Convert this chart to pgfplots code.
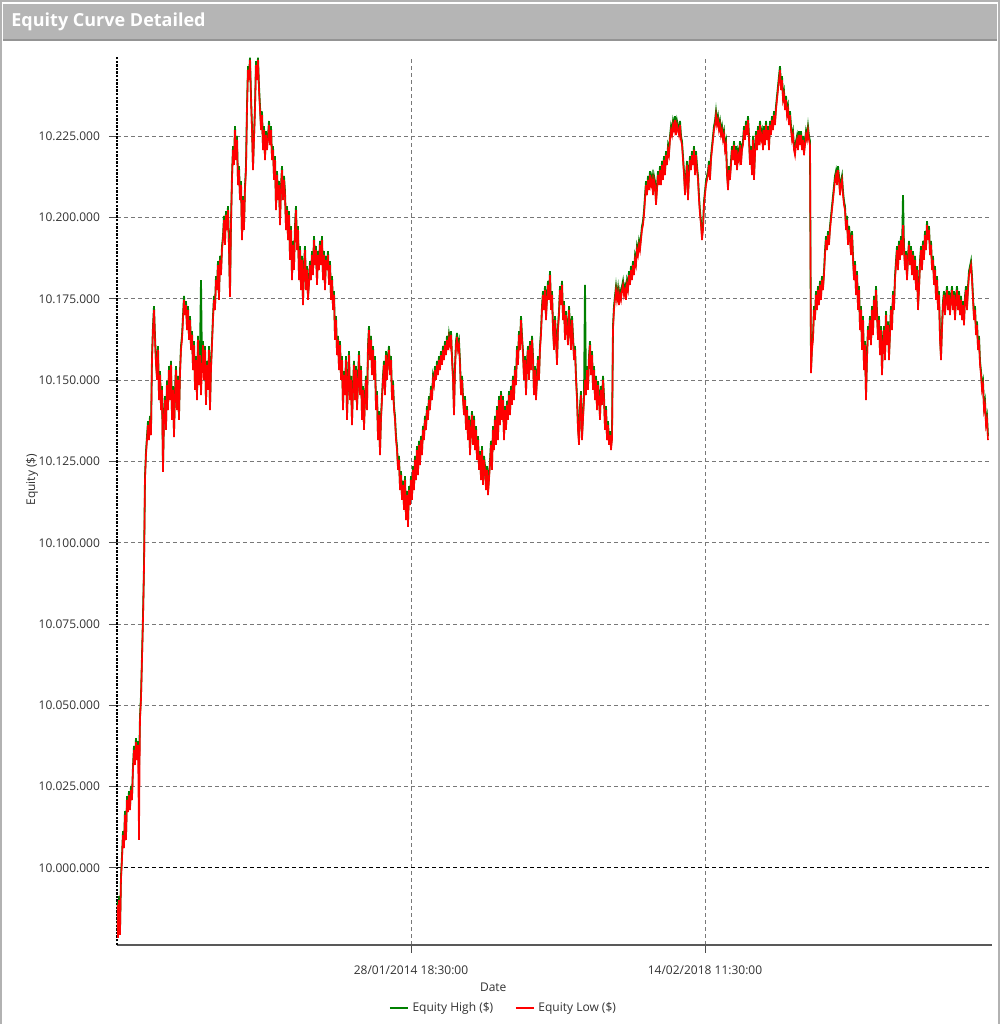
\documentclass[border=0pt]{standalone}
\usepackage{pgfplots}
\usepackage{pgfplotstable}
\pgfplotsset{compat=1.18}
\usepackage{fontspec}
\setmainfont{Open Sans}
\definecolor{eqgreen}{RGB}{0,128,0}
\definecolor{eqred}{RGB}{255,0,0}
\definecolor{gridgray}{RGB}{120,120,120}
\definecolor{txt}{RGB}{50,50,50}
\pgfplotstableread{
x lo hi
0 9988.6 9989.8
1 9978.5 9979.7
2 9990.1 9991.3
3 9979.4 9980.6
4 9996.3 9997.5
5 10002.5 10003.7
6 10010.1 10011.3
7 10006.1 10007.3
8 10016.3 10017.5
9 10008.6 10009.8
10 10020.9 10022.1
11 10017.2 10018.4
12 10022.4 10023.6
13 10017.8 10019.0
14 10024.0 10025.2
15 10020.9 10022.1
16 10030.1 10031.3
17 10036.3 10037.5
18 10031.7 10032.9
19 10038.7 10039.9
20 10033.2 10034.4
21 10037.8 10039.0
22 10008.6 10030.0
23 10045.5 10046.7
24 10051.7 10052.9
25 10063.9 10065.1
26 10076.3 10077.5
27 10091.6 10092.8
28 10119.3 10120.5
29 10127.0 10128.2
30 10131.6 10132.8
31 10136.2 10137.4
32 10131.6 10132.8
33 10137.8 10139.0
34 10133.1 10134.3
35 10156.2 10157.4
36 10165.4 10166.6
37 10171.6 10172.8
38 10162.4 10163.6
39 10154.7 10155.9
40 10150.1 10151.3
41 10159.3 10160.5
42 10143.9 10145.1
43 10151.6 10152.8
44 10140.8 10142.0
45 10147.0 10148.2
46 10121.8 10123.0
47 10137.8 10139.0
48 10143.9 10145.1
49 10134.7 10135.9
50 10148.5 10149.7
51 10140.8 10142.0
52 10153.1 10154.3
53 10143.9 10145.1
54 10154.7 10155.9
55 10137.8 10139.0
56 10147.0 10148.2
57 10132.5 10133.7
58 10145.4 10146.6
59 10153.1 10154.3
60 10140.8 10142.0
61 10150.1 10151.3
62 10137.8 10139.0
63 10151.6 10152.8
64 10159.3 10160.5
65 10162.4 10163.6
66 10168.5 10169.7
67 10174.7 10175.9
68 10170.0 10171.2
69 10173.1 10174.3
70 10165.4 10166.6
71 10171.6 10172.8
72 10162.4 10163.6
73 10168.5 10169.7
74 10159.3 10160.5
75 10163.9 10165.1
76 10153.1 10154.3
77 10160.8 10162.0
78 10147.0 10148.2
79 10156.2 10157.4
80 10143.9 10145.1
81 10162.4 10163.6
82 10148.5 10149.7
83 10157.7 10158.9
84 10145.4 10180.8
85 10153.1 10154.3
86 10160.8 10162.0
87 10150.1 10151.3
88 10159.3 10160.5
89 10142.4 10143.6
90 10154.7 10155.9
91 10147.0 10148.2
92 10159.3 10160.5
93 10140.8 10142.0
94 10153.1 10154.3
95 10160.8 10162.0
96 10168.5 10169.7
97 10174.7 10175.9
98 10171.6 10172.8
99 10180.8 10182.0
100 10177.7 10178.9
101 10185.4 10186.6
102 10174.7 10175.9
103 10187.0 10188.2
104 10182.3 10183.5
105 10190.0 10191.2
106 10193.1 10194.3
107 10199.3 10200.5
108 10191.6 10192.8
109 10200.8 10202.0
110 10196.2 10197.4
111 10202.3 10203.5
112 10190.0 10191.2
113 10175.6 10176.8
114 10197.7 10198.9
115 10211.6 10212.8
116 10220.8 10222.0
117 10216.2 10217.4
118 10226.9 10228.1
119 10217.7 10218.9
120 10223.9 10225.1
121 10210.0 10211.2
122 10214.6 10215.8
123 10205.4 10206.6
124 10210.0 10211.2
125 10193.1 10194.3
126 10205.4 10206.6
127 10196.2 10197.4
128 10208.5 10209.7
129 10214.6 10215.8
130 10233.1 10234.3
131 10245.4 10246.6
132 10242.3 10243.5
133 10248.5 10249.2
134 10236.2 10237.4
135 10226.9 10228.1
136 10214.6 10215.8
137 10223.9 10225.1
138 10233.1 10234.3
139 10246.9 10248.1
140 10242.3 10243.5
141 10248.5 10249.2
142 10239.2 10240.4
143 10233.1 10234.3
144 10226.9 10228.1
145 10231.5 10232.7
146 10220.8 10222.0
147 10226.9 10228.1
148 10217.7 10218.9
149 10225.4 10226.6
150 10220.8 10222.0
151 10223.9 10225.1
152 10228.5 10229.7
153 10222.3 10223.5
154 10226.9 10228.1
155 10217.7 10218.9
156 10220.8 10222.0
157 10211.6 10212.8
158 10217.7 10218.9
159 10202.3 10203.5
160 10213.1 10214.3
161 10205.4 10206.6
162 10210.0 10211.2
163 10197.7 10198.9
164 10208.5 10209.7
165 10214.6 10215.8
166 10205.4 10206.6
167 10211.6 10212.8
168 10206.9 10208.1
169 10196.2 10197.4
170 10202.3 10203.5
171 10193.1 10194.3
172 10200.8 10202.0
173 10187.0 10188.2
174 10196.2 10197.4
175 10180.8 10182.0
176 10191.6 10192.8
177 10183.9 10185.1
178 10196.2 10197.4
179 10202.3 10203.5
180 10190.0 10191.2
181 10196.2 10197.4
182 10180.8 10182.0
183 10190.0 10191.2
184 10177.7 10178.9
185 10187.0 10188.2
186 10173.1 10174.3
187 10183.9 10185.1
188 10190.0 10191.2
189 10177.7 10178.9
190 10183.9 10185.1
191 10174.7 10175.9
192 10179.3 10180.5
193 10185.4 10186.6
194 10180.8 10182.0
195 10188.5 10189.7
196 10182.3 10183.5
197 10193.1 10194.3
198 10185.4 10186.6
199 10190.0 10191.2
200 10179.3 10180.5
201 10188.5 10189.7
202 10183.9 10185.1
203 10191.6 10192.8
204 10185.4 10186.6
205 10193.1 10194.3
206 10180.8 10182.0
207 10188.5 10189.7
208 10177.7 10178.9
209 10187.0 10188.2
210 10183.9 10185.1
211 10188.5 10189.7
212 10179.3 10180.5
213 10185.4 10186.6
214 10174.7 10175.9
215 10180.8 10182.0
216 10171.6 10172.8
217 10176.2 10177.4
218 10162.4 10163.6
219 10168.5 10169.7
220 10157.7 10158.9
221 10162.4 10163.6
222 10153.1 10154.3
223 10160.8 10162.0
224 10150.1 10151.3
225 10156.2 10157.4
226 10140.8 10142.0
227 10151.6 10152.8
228 10145.4 10146.6
229 10156.2 10157.4
230 10137.8 10139.0
231 10148.5 10149.7
232 10157.7 10158.9
233 10143.9 10145.1
234 10150.1 10151.3
235 10136.2 10137.4
236 10147.0 10148.2
237 10154.7 10155.9
238 10143.9 10145.1
239 10153.1 10154.3
240 10140.8 10142.0
241 10148.5 10149.7
242 10157.7 10158.9
243 10145.4 10146.6
244 10153.1 10154.3
245 10137.8 10139.0
246 10147.0 10148.2
247 10134.7 10135.9
248 10143.9 10145.1
249 10150.1 10151.3
250 10140.8 10142.0
251 10159.3 10160.5
252 10165.4 10166.6
253 10156.2 10157.4
254 10162.4 10163.6
255 10151.6 10152.8
256 10159.3 10160.5
257 10150.1 10151.3
258 10156.2 10157.4
259 10140.8 10142.0
260 10145.4 10146.6
261 10131.6 10132.8
262 10139.3 10140.5
263 10127.0 10128.2
264 10137.8 10139.0
265 10143.9 10145.1
266 10150.1 10151.3
267 10154.7 10155.9
268 10145.4 10146.6
269 10157.7 10158.9
270 10150.1 10151.3
271 10156.2 10157.4
272 10159.3 10160.5
273 10151.6 10152.8
274 10156.2 10157.4
275 10143.9 10145.1
276 10148.5 10149.7
277 10140.8 10142.0
278 10137.8 10139.0
279 10131.6 10132.8
280 10128.5 10129.7
281 10122.4 10123.6
282 10125.5 10126.7
283 10116.2 10117.4
284 10120.8 10122.0
285 10113.2 10114.4
286 10117.8 10119.0
287 10110.1 10111.3
288 10119.3 10120.5
289 10107.0 10108.2
290 10114.7 10115.9
291 10104.9 10106.1
292 10116.2 10117.4
293 10111.6 10112.8
294 10119.3 10120.5
295 10113.2 10114.4
296 10122.4 10123.6
297 10116.2 10117.4
298 10125.5 10126.7
299 10119.3 10120.5
300 10128.5 10129.7
301 10120.8 10122.0
302 10130.1 10131.3
303 10123.9 10125.1
304 10131.6 10132.8
305 10127.0 10128.2
306 10134.7 10135.9
307 10131.6 10132.8
308 10137.8 10139.0
309 10134.7 10135.9
310 10140.8 10142.0
311 10137.8 10139.0
312 10143.9 10145.1
313 10140.8 10142.0
314 10147.0 10148.2
315 10143.9 10145.1
316 10150.1 10151.3
317 10148.5 10149.7
318 10153.1 10154.3
319 10150.1 10151.3
320 10154.7 10155.9
321 10151.6 10152.8
322 10156.2 10157.4
323 10153.1 10154.3
324 10157.7 10158.9
325 10154.7 10155.9
326 10159.3 10160.5
327 10156.2 10157.4
328 10160.8 10162.0
329 10157.7 10158.9
330 10162.4 10163.6
331 10159.3 10160.5
332 10163.0 10164.2
333 10160.8 10162.0
334 10163.9 10165.1
335 10156.2 10157.4
336 10150.1 10151.3
337 10139.3 10140.5
338 10153.1 10154.3
339 10160.8 10162.0
340 10163.3 10164.5
341 10159.3 10160.5
342 10160.8 10162.0
343 10154.7 10155.9
344 10145.4 10146.6
345 10150.1 10151.3
346 10143.9 10145.1
347 10139.3 10140.5
348 10143.9 10145.1
349 10134.7 10135.9
350 10140.8 10142.0
351 10131.6 10132.8
352 10137.8 10139.0
353 10127.0 10128.2
354 10134.7 10135.9
355 10139.3 10140.5
356 10130.1 10131.3
357 10137.8 10139.0
358 10128.5 10129.7
359 10134.7 10135.9
360 10125.5 10126.7
361 10131.6 10132.8
362 10122.4 10123.6
363 10127.0 10128.2
364 10119.3 10120.5
365 10128.5 10129.7
366 10117.8 10119.0
367 10125.5 10126.7
368 10122.4 10123.6
369 10116.2 10117.4
370 10122.4 10123.6
371 10114.7 10115.9
372 10119.3 10120.5
373 10123.9 10125.1
374 10130.1 10131.3
375 10122.4 10123.6
376 10134.7 10135.9
377 10128.5 10129.7
378 10137.8 10139.0
379 10130.1 10131.3
380 10140.8 10142.0
381 10131.6 10132.8
382 10143.9 10145.1
383 10136.2 10137.4
384 10145.4 10146.6
385 10137.8 10139.0
386 10143.9 10145.1
387 10131.6 10132.8
388 10140.8 10142.0
389 10134.7 10135.9
390 10142.4 10143.6
391 10137.8 10139.0
392 10145.4 10146.6
393 10139.3 10140.5
394 10147.0 10148.2
395 10142.4 10143.6
396 10150.1 10151.3
397 10143.9 10145.1
398 10153.1 10154.3
399 10148.5 10149.7
400 10159.3 10160.5
401 10154.7 10155.9
402 10163.9 10165.1
403 10159.3 10160.5
404 10168.5 10169.7
405 10162.4 10163.6
406 10157.7 10158.9
407 10150.1 10151.3
408 10156.2 10157.4
409 10145.4 10146.6
410 10154.7 10155.9
411 10159.3 10160.5
412 10150.1 10151.3
413 10160.8 10162.0
414 10153.1 10154.3
415 10162.4 10163.6
416 10156.2 10157.4
417 10145.4 10146.6
418 10153.1 10154.3
419 10143.9 10145.1
420 10150.1 10151.3
421 10156.2 10157.4
422 10150.1 10151.3
423 10159.3 10160.5
424 10163.9 10165.1
425 10171.6 10172.8
426 10176.2 10177.4
427 10171.6 10172.8
428 10177.7 10178.9
429 10168.5 10169.7
430 10174.7 10175.9
431 10179.3 10180.5
432 10174.7 10175.9
433 10182.3 10183.5
434 10171.6 10172.8
435 10176.2 10177.4
436 10165.4 10166.6
437 10159.3 10160.5
438 10168.5 10169.7
439 10162.4 10163.6
440 10154.7 10155.9
441 10165.4 10166.6
442 10170.0 10171.2
443 10177.7 10178.9
444 10173.1 10174.3
445 10179.3 10180.5
446 10168.5 10169.7
447 10173.1 10174.3
448 10162.4 10163.6
449 10170.0 10171.2
450 10165.4 10166.6
451 10160.8 10162.0
452 10171.6 10172.8
453 10165.4 10166.6
454 10159.3 10160.5
455 10168.5 10169.7
456 10162.4 10163.6
457 10156.2 10157.4
458 10159.3 10160.5
459 10150.1 10151.3
460 10143.9 10145.1
461 10134.7 10135.9
462 10130.1 10131.3
463 10140.8 10142.0
464 10145.4 10146.6
465 10131.6 10132.8
466 10137.8 10139.0
467 10143.9 10145.1
468 10150.1 10179.3
469 10145.4 10146.6
470 10153.1 10154.3
471 10147.0 10148.2
472 10156.2 10157.4
473 10160.8 10162.0
474 10151.6 10152.8
475 10157.7 10158.9
476 10147.0 10148.2
477 10153.1 10154.3
478 10143.9 10145.1
479 10150.1 10151.3
480 10140.8 10142.0
481 10148.5 10149.7
482 10143.9 10145.1
483 10137.8 10139.0
484 10147.0 10148.2
485 10142.4 10143.6
486 10150.1 10151.3
487 10143.9 10145.1
488 10134.7 10135.9
489 10140.8 10142.0
490 10131.6 10132.8
491 10136.2 10137.4
492 10130.1 10131.3
493 10133.1 10134.3
494 10128.5 10129.7
495 10131.6 10132.8
496 10165.4 10166.6
497 10171.6 10172.8
498 10174.7 10175.9
499 10177.7 10178.9
500 10174.7 10175.9
501 10177.1 10178.3
502 10173.1 10174.3
503 10176.2 10177.4
504 10174.7 10175.9
505 10177.7 10178.9
506 10179.3 10180.5
507 10176.2 10177.4
508 10177.7 10178.9
509 10174.7 10175.9
510 10179.3 10180.5
511 10177.7 10178.9
512 10182.3 10183.5
513 10179.3 10180.5
514 10183.9 10185.1
515 10180.8 10182.0
516 10185.4 10186.6
517 10182.3 10183.5
518 10187.0 10188.2
519 10185.4 10186.6
520 10190.0 10191.2
521 10188.5 10189.7
522 10191.6 10192.8
523 10190.0 10191.2
524 10193.1 10194.3
525 10196.2 10197.4
526 10197.7 10198.9
527 10200.8 10202.0
528 10205.4 10206.6
529 10210.0 10211.2
530 10206.9 10208.1
531 10211.6 10212.8
532 10208.5 10209.7
533 10213.1 10214.3
534 10210.0 10211.2
535 10211.6 10212.8
536 10206.9 10208.1
537 10211.6 10212.8
538 10210.0 10211.2
539 10203.9 10205.1
540 10208.5 10209.7
541 10213.1 10214.3
542 10210.0 10211.2
543 10214.6 10215.8
544 10210.0 10211.2
545 10216.2 10217.4
546 10211.6 10212.8
547 10217.7 10218.9
548 10213.1 10214.3
549 10219.2 10220.4
550 10216.2 10217.4
551 10220.8 10222.0
552 10219.2 10220.4
553 10223.9 10225.1
554 10226.9 10228.1
555 10225.4 10226.6
556 10228.5 10229.7
557 10226.9 10228.1
558 10230.0 10231.2
559 10225.4 10226.6
560 10228.5 10229.7
561 10226.9 10228.1
562 10225.4 10226.6
563 10228.5 10229.7
564 10223.9 10225.1
565 10222.3 10223.5
566 10217.7 10218.9
567 10213.1 10214.3
568 10206.9 10208.1
569 10211.6 10212.8
570 10216.2 10217.4
571 10205.4 10206.6
572 10213.1 10214.3
573 10217.7 10218.9
574 10214.6 10215.8
575 10219.2 10220.4
576 10216.2 10217.4
577 10220.8 10222.0
578 10213.1 10214.3
579 10219.2 10220.4
580 10214.6 10215.8
581 10211.6 10212.8
582 10205.4 10206.6
583 10200.8 10202.0
584 10197.7 10198.9
585 10193.1 10194.3
586 10196.2 10197.4
587 10203.9 10205.1
588 10206.9 10208.1
589 10210.0 10211.2
590 10211.6 10212.8
591 10213.1 10214.3
592 10216.2 10217.4
593 10211.6 10212.8
594 10217.7 10218.9
595 10220.8 10222.0
596 10223.9 10225.1
597 10226.9 10228.1
598 10228.5 10229.7
599 10231.5 10232.7
600 10228.5 10229.7
601 10230.0 10231.2
602 10226.9 10228.1
603 10228.5 10229.7
604 10225.4 10226.6
605 10226.9 10228.1
606 10223.9 10225.1
607 10225.4 10226.6
608 10220.8 10222.0
609 10222.3 10223.5
610 10213.1 10214.3
611 10208.5 10209.7
612 10214.6 10215.8
613 10211.6 10212.8
614 10216.2 10217.4
615 10220.8 10222.0
616 10217.7 10218.9
617 10222.3 10223.5
618 10216.2 10217.4
619 10220.8 10222.0
620 10214.6 10215.8
621 10219.2 10220.4
622 10217.7 10218.9
623 10222.3 10223.5
624 10216.2 10217.4
625 10220.8 10222.0
626 10222.3 10223.5
627 10226.9 10228.1
628 10223.9 10225.1
629 10228.5 10229.7
630 10225.4 10226.6
631 10230.0 10231.2
632 10223.9 10225.1
633 10216.2 10217.4
634 10220.8 10222.0
635 10213.1 10214.3
636 10223.9 10225.1
637 10211.6 10212.8
638 10219.2 10220.4
639 10225.4 10226.6
640 10220.8 10222.0
641 10226.9 10228.1
642 10222.3 10223.5
643 10228.5 10229.7
644 10223.9 10225.1
645 10225.4 10226.6
646 10220.8 10222.0
647 10226.9 10228.1
648 10222.3 10223.5
649 10228.5 10229.7
650 10223.9 10225.1
651 10226.9 10228.1
652 10220.8 10222.0
653 10228.5 10229.7
654 10225.4 10226.6
655 10230.0 10231.2
656 10226.9 10228.1
657 10231.5 10232.7
658 10228.5 10229.7
659 10233.1 10234.3
660 10236.2 10237.4
661 10239.2 10240.4
662 10242.3 10243.5
663 10245.4 10246.6
664 10239.2 10240.4
665 10242.3 10243.5
666 10236.2 10237.4
667 10237.7 10238.9
668 10233.1 10234.3
669 10236.2 10237.4
670 10231.5 10232.7
671 10233.1 10234.3
672 10228.5 10229.7
673 10231.5 10232.7
674 10226.9 10228.1
675 10223.9 10225.1
676 10225.4 10226.6
677 10220.8 10222.0
678 10219.2 10220.4
679 10222.3 10223.5
680 10223.9 10225.1
681 10220.8 10222.0
682 10225.4 10226.6
683 10222.3 10223.5
684 10225.4 10226.6
685 10220.8 10222.0
686 10223.9 10225.1
687 10219.2 10220.4
688 10222.3 10223.5
689 10225.4 10226.6
690 10223.9 10225.1
691 10226.9 10228.1
692 10223.9 10225.1
693 10222.3 10223.5
694 10152.2 10153.4
695 10159.3 10160.5
696 10162.4 10163.6
697 10171.6 10172.8
698 10168.5 10169.7
699 10176.2 10177.4
700 10171.6 10172.8
701 10177.7 10178.9
702 10173.1 10174.3
703 10179.3 10180.5
704 10174.7 10175.9
705 10180.8 10182.0
706 10177.7 10178.9
707 10182.3 10183.5
708 10188.5 10189.7
709 10193.1 10194.3
710 10190.0 10191.2
711 10194.6 10195.8
712 10191.6 10192.8
713 10196.2 10197.4
714 10199.3 10200.5
715 10202.3 10203.5
716 10205.4 10206.6
717 10208.5 10209.7
718 10211.6 10212.8
719 10213.1 10214.3
720 10210.0 10211.2
721 10214.6 10215.8
722 10211.6 10212.8
723 10206.9 10208.1
724 10210.0 10211.2
725 10211.6 10212.8
726 10206.9 10208.1
727 10203.9 10205.1
728 10202.3 10203.5
729 10196.2 10197.4
730 10199.3 10200.5
731 10191.6 10192.8
732 10196.2 10197.4
733 10193.1 10194.3
734 10188.5 10189.7
735 10194.6 10195.8
736 10187.0 10188.2
737 10180.8 10182.0
738 10185.4 10186.6
739 10176.2 10177.4
740 10182.3 10183.5
741 10171.6 10172.8
742 10177.7 10178.9
743 10165.4 10166.6
744 10171.6 10172.8
745 10159.3 10160.5
746 10168.5 10169.7
747 10153.1 10154.3
748 10160.8 10162.0
749 10143.9 10145.1
750 10156.2 10157.4
751 10165.4 10166.6
752 10162.4 10163.6
753 10168.5 10169.7
754 10160.8 10162.0
755 10171.6 10172.8
756 10163.9 10165.1
757 10174.7 10175.9
758 10168.5 10169.7
759 10177.7 10178.9
760 10170.0 10171.2
761 10162.4 10163.6
762 10168.5 10169.7
763 10157.7 10158.9
764 10165.4 10166.6
765 10151.6 10152.8
766 10160.8 10162.0
767 10165.4 10166.6
768 10156.2 10157.4
769 10170.0 10171.2
770 10160.8 10162.0
771 10166.9 10168.1
772 10156.2 10157.4
773 10163.9 10165.1
774 10171.6 10172.8
775 10165.4 10166.6
776 10176.2 10177.4
777 10171.6 10172.8
778 10180.8 10182.0
779 10185.4 10186.6
780 10190.0 10191.2
781 10183.9 10185.1
782 10191.6 10192.8
783 10187.0 10188.2
784 10193.1 10194.3
785 10188.5 10189.7
786 10197.7 10206.9
787 10190.0 10191.2
788 10183.9 10185.1
789 10188.5 10189.7
790 10180.8 10182.0
791 10187.0 10188.2
792 10191.6 10192.8
793 10185.4 10186.6
794 10190.0 10191.2
795 10182.3 10183.5
796 10188.5 10189.7
797 10180.8 10182.0
798 10187.0 10188.2
799 10177.7 10178.9
800 10183.9 10185.1
801 10171.6 10172.8
802 10177.7 10178.9
803 10185.4 10186.6
804 10190.0 10191.2
805 10183.9 10185.1
806 10191.6 10192.8
807 10187.0 10188.2
808 10194.6 10195.8
809 10190.0 10191.2
810 10197.7 10198.9
811 10193.1 10194.3
812 10196.2 10197.4
813 10188.5 10189.7
814 10191.6 10192.8
815 10183.9 10185.1
816 10187.0 10188.2
817 10179.3 10180.5
818 10183.9 10185.1
819 10174.7 10175.9
820 10180.8 10182.0
821 10171.6 10172.8
822 10176.2 10177.4
823 10162.4 10163.6
824 10156.2 10157.4
825 10165.4 10166.6
826 10173.1 10174.3
827 10176.2 10177.4
828 10170.0 10171.2
829 10174.7 10175.9
830 10177.7 10178.9
831 10171.6 10172.8
832 10176.2 10177.4
833 10170.0 10171.2
834 10174.7 10175.9
835 10177.7 10178.9
836 10171.6 10172.8
837 10176.2 10177.4
838 10168.5 10169.7
839 10174.7 10175.9
840 10177.7 10178.9
841 10171.6 10172.8
842 10176.2 10177.4
843 10170.0 10171.2
844 10174.7 10175.9
845 10168.5 10169.7
846 10173.1 10174.3
847 10166.9 10168.1
848 10174.7 10175.9
849 10177.7 10178.9
850 10171.6 10172.8
851 10177.7 10178.9
852 10182.3 10183.5
853 10183.9 10185.1
854 10185.4 10186.6
855 10180.8 10182.0
856 10174.7 10175.9
857 10168.5 10169.7
858 10171.6 10172.8
859 10163.9 10165.1
860 10166.9 10168.1
861 10159.3 10160.5
862 10162.4 10163.6
863 10154.7 10155.9
864 10151.6 10152.8
865 10147.0 10148.2
866 10148.5 10149.7
867 10140.8 10142.0
868 10142.4 10143.6
869 10136.2 10137.4
870 10137.8 10139.0
871 10131.6 10132.8
}\equitydata
\begin{document}
\begin{tikzpicture}[x=1pt,y=1pt]
\path[use as bounding box] (0,0) rectangle (500,512);
\draw[black!30, line width=0.8pt] (0.6,0) -- (0.6,511.4) -- (499.4,511.4) -- (499.4,0);
\fill[black!29] (1.5,492) rectangle (498.5,509.8);
\draw[black!42, line width=0.6pt] (1.5,492) -- (498.5,492);
\node[anchor=west, text=white, inner sep=0pt, font=\bfseries\fontsize{9}{10}\selectfont] at (5.5,501) {Equity Curve Detailed};
\begin{axis}[
  at={(58.5pt,39.5pt)}, anchor=south west,
  scale only axis, width=437.5pt, height=444pt,
  xmin=0, xmax=875, ymin=9976.3, ymax=10249.4,
  scaled y ticks=false, scaled x ticks=false,
  axis x line*=bottom, axis y line*=left,
  x axis line style={black!65, line width=0.9pt},
  y axis line style={black, line width=1.1pt, dash pattern=on 1.2pt off 0.6pt},
  xtick={294,588},
  xticklabels={28/01/2014 18:30:00, 14/02/2018 11:30:00},
  ytick={10025,10050,10075,10100,10125,10150,10175,10200,10225},
  yticklabels={10.025.000,10.050.000,10.075.000,10.100.000,10.125.000,10.150.000,10.175.000,10.200.000,10.225.000},
  extra y ticks={10000},
  extra y tick labels={10.000.000},
  extra y tick style={grid style={black, line width=0.5pt, dash pattern=on 2pt off 1.5pt}},
  tick align=outside,
  major tick length=4pt,
  tick style={black!70, line width=0.5pt},
  xmajorgrids, ymajorgrids,
  grid style={gridgray, line width=0.5pt, dash pattern=on 2pt off 1.5pt},
  ticklabel style={font=\fontsize{6}{7}\selectfont, text=txt},
  /pgf/number format/assume math mode=true,
  xticklabel style={yshift=-3pt},
  yticklabel style={xshift=-1pt},
  xlabel={Date},
  ylabel={Equity (\$)},
  label style={font=\fontsize{6}{7}\selectfont, text=txt},
  xlabel style={at={(axis description cs:0.43,-0.048)}, anchor=center},
  ylabel style={at={(axis description cs:-0.097,0.524)}, anchor=center, rotate=0},
  legend columns=2,
  legend style={draw=none, fill=none, at={(axis description cs:0.443,-0.071)}, anchor=center,
    font=\fontsize{6}{7}\selectfont, text=txt, /tikz/every even column/.append style={column sep=9pt}},
  legend image code/.code={\draw[#1, line width=0.6pt] (0pt,0pt) -- (9pt,0pt);},
  clip=true,
]
\addplot[eqgreen, line width=0.9pt] table[x=x, y=hi] {\equitydata};
\addlegendentry{Equity High (\$)}
\addplot[eqred, line width=0.8pt] table[x=x, y=lo] {\equitydata};
\addlegendentry{Equity Low (\$)}
\end{axis}
\end{tikzpicture}
\end{document}
